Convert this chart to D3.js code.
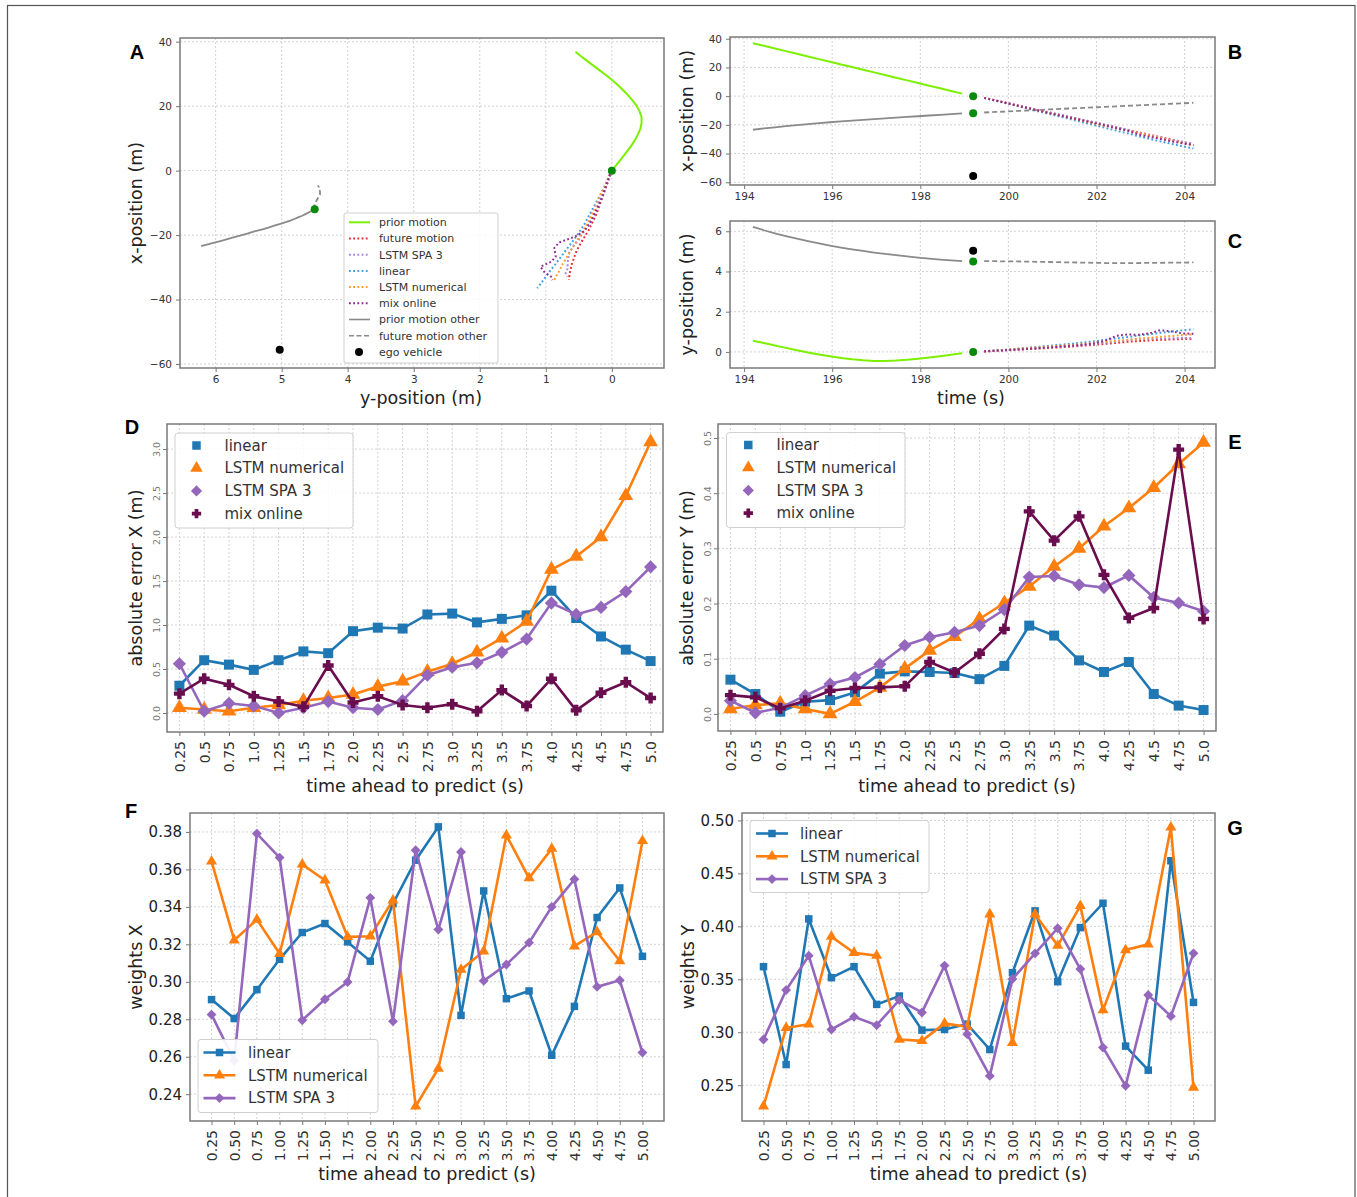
<!DOCTYPE html>
<html>
<head>
<meta charset="utf-8">
<script src="https://cdn.jsdelivr.net/npm/d3@7"></script>
<style>
  body { margin: 0; background: #fff; }
  svg { display: block; font-family: "DejaVu Sans", sans-serif; }
</style>
</head>
<body>
<svg id="fig" width="1357" height="1197"></svg>
<script>
// ---------------- trajectory data (panels A, B, C) ----------------
// observed history of the target vehicle, 0.25 s steps
const priorT = [194.2,194.45,194.7,194.95,195.2,195.45,195.7,195.95,196.2,196.45,196.7,196.95,197.2,197.45,197.7,197.95,198.2,198.45,198.7,198.95];
const priorX = [36.9,35.05,33.2,31.35,29.5,27.65,25.8,23.95,22.1,20.25,18.4,16.55,14.7,12.85,11.0,9.15,7.3,5.45,3.6,1.75];
const priorY = [0.55,0.44,0.32,0.20,0.08,-0.03,-0.13,-0.22,-0.30,-0.37,-0.42,-0.45,-0.45,-0.43,-0.39,-0.34,-0.28,-0.21,-0.14,-0.07];
// observed history of the other vehicle
const otherPriorX = [-23.4,-22.5,-21.7,-20.9,-20.2,-19.5,-18.8,-18.2,-17.6,-17.0,-16.5,-16.0,-15.5,-15.0,-14.5,-14.0,-13.5,-13.0,-12.5,-12.0];
const otherPriorY = [6.22,6.05,5.90,5.76,5.63,5.51,5.40,5.29,5.19,5.10,5.02,4.94,4.87,4.81,4.75,4.69,4.64,4.59,4.55,4.51];
// current time step and positions
const nowT = 199.2;
const nowTarget = {x: 0.0, y: 0.0};
const nowOther = {x: -12.0, y: 4.5};
const nowEgo = {x: -55.6, y: 5.03};
// prediction horizon, 0.25 s steps
const futT = [199.45,199.7,199.95,200.2,200.45,200.7,200.95,201.2,201.45,201.7,201.95,202.2,202.45,202.7,202.95,203.2,203.45,203.7,203.95,204.2];
const otherFutX = [-11.4,-11.0,-10.7,-10.3,-10.0,-9.6,-9.2,-8.9,-8.5,-8.2,-7.8,-7.5,-7.1,-6.7,-6.4,-6.0,-5.7,-5.3,-5.0,-4.6];
const otherFutY = [4.51,4.51,4.50,4.50,4.49,4.48,4.47,4.46,4.45,4.44,4.43,4.42,4.42,4.42,4.42,4.43,4.43,4.44,4.44,4.45];
const futureX = [-1.2,-2.9,-4.7,-6.4,-8.1,-9.9,-11.6,-13.3,-15.0,-16.7,-18.4,-20.1,-21.8,-23.5,-25.2,-26.9,-28.6,-30.3,-32.0,-33.9];
const futureY = [0.02,0.05,0.08,0.11,0.14,0.17,0.20,0.23,0.27,0.31,0.35,0.40,0.45,0.50,0.54,0.57,0.60,0.62,0.64,0.65];
const predSpaX = [-1.2,-2.9,-4.6,-6.3,-8.0,-9.7,-11.4,-13.1,-14.8,-16.5,-18.2,-19.9,-21.5,-23.3,-25.6,-27.2,-28.8,-30.4,-31.8,-33.0];
const predSpaY = [0.02,0.05,0.08,0.12,0.15,0.19,0.22,0.26,0.30,0.34,0.40,0.46,0.50,0.58,0.65,0.66,0.67,0.67,0.70,0.68];
const predLinX = [-1.3,-3.1,-5.0,-6.9,-8.8,-10.7,-12.6,-14.5,-16.4,-18.3,-20.2,-22.1,-24.0,-25.9,-27.8,-29.7,-31.5,-33.2,-34.9,-36.5];
const predLinY = [0.03,0.07,0.11,0.16,0.21,0.26,0.31,0.36,0.41,0.47,0.53,0.60,0.67,0.74,0.81,0.88,0.95,1.01,1.07,1.13];
const predNumX = [-1.2,-3.0,-4.8,-6.6,-8.4,-10.2,-12.0,-13.8,-15.6,-17.3,-19.0,-20.7,-22.4,-24.1,-25.8,-27.5,-29.2,-30.9,-32.6,-34.4];
const predNumY = [0.03,0.07,0.11,0.15,0.19,0.23,0.27,0.31,0.35,0.40,0.45,0.50,0.55,0.60,0.65,0.70,0.75,0.79,0.84,0.88];
const predMixX = [-1.2,-3.0,-4.8,-6.6,-8.4,-10.2,-12.0,-13.7,-15.4,-17.1,-18.8,-20.5,-22.3,-24.0,-26.7,-28.3,-29.8,-31.5,-32.9,-34.0];
const predMixY = [0.03,0.06,0.09,0.12,0.15,0.19,0.23,0.27,0.31,0.36,0.42,0.56,0.80,0.87,0.85,0.92,1.08,1.02,0.92,0.90];

// ---------------- error and weight data (panels D-G) ----------------
const horizonLabels = ["0.25","0.5","0.75","1.0","1.25","1.5","1.75","2.0","2.25","2.5","2.75","3.0","3.25","3.5","3.75","4.0","4.25","4.5","4.75","5.0"];
const horizonLabelsW = ["0.25","0.50","0.75","1.00","1.25","1.50","1.75","2.00","2.25","2.50","2.75","3.00","3.25","3.50","3.75","4.00","4.25","4.50","4.75","5.00"];

const errXLinear  = [0.31,0.60,0.55,0.49,0.60,0.70,0.68,0.93,0.97,0.96,1.12,1.13,1.03,1.07,1.11,1.39,1.08,0.87,0.72,0.59];
const errXLstmNum = [0.06,0.04,0.02,0.06,0.09,0.14,0.17,0.21,0.30,0.36,0.47,0.56,0.69,0.85,1.04,1.63,1.78,2.00,2.47,3.08];
const errXSpa     = [0.56,0.02,0.11,0.08,0.00,0.06,0.13,0.06,0.04,0.14,0.43,0.52,0.57,0.69,0.84,1.25,1.12,1.20,1.38,1.66];
const errXMix     = [0.22,0.39,0.32,0.19,0.13,0.07,0.54,0.12,0.19,0.09,0.06,0.10,0.02,0.26,0.08,0.39,0.03,0.23,0.35,0.17];

const errYLinear  = [0.062,0.036,0.004,0.022,0.025,0.039,0.073,0.077,0.076,0.074,0.063,0.087,0.160,0.142,0.097,0.076,0.094,0.036,0.015,0.007];
const errYLstmNum = [0.009,0.016,0.019,0.009,0.000,0.022,0.048,0.082,0.115,0.140,0.172,0.201,0.231,0.267,0.300,0.340,0.373,0.410,0.453,0.492];
const errYSpa     = [0.024,0.002,0.011,0.033,0.054,0.066,0.090,0.124,0.139,0.148,0.160,0.189,0.248,0.250,0.234,0.229,0.251,0.211,0.201,0.186];
const errYMix     = [0.034,0.030,0.010,0.024,0.042,0.047,0.048,0.050,0.094,0.075,0.109,0.154,0.367,0.314,0.358,0.252,0.174,0.192,0.479,0.172];

const wXLinear  = [0.2905,0.2804,0.2958,0.3120,0.3263,0.3311,0.3213,0.3110,0.3417,0.3649,0.3827,0.2821,0.3485,0.2910,0.2951,0.2608,0.2869,0.3343,0.3501,0.3136];
const wXLstmNum = [0.3643,0.3222,0.3332,0.3150,0.3627,0.3542,0.3240,0.3243,0.3435,0.2336,0.2537,0.3065,0.3163,0.3782,0.3554,0.3711,0.3190,0.3266,0.3111,0.3752];
const wXSpa     = [0.2825,0.2580,0.3791,0.3663,0.2795,0.2907,0.2999,0.3448,0.2789,0.3702,0.3279,0.3693,0.3005,0.3092,0.3209,0.3400,0.3547,0.2973,0.3008,0.2622];

const wYLinear  = [0.3619,0.2695,0.4070,0.3515,0.3619,0.3263,0.3342,0.3020,0.3026,0.3077,0.2837,0.3562,0.4146,0.3477,0.3988,0.4218,0.2869,0.2642,0.4619,0.3282];
const wYLstmNum = [0.2301,0.3042,0.3074,0.3903,0.3751,0.3723,0.2932,0.2919,0.3083,0.3052,0.4114,0.2900,0.4114,0.3818,0.4193,0.3209,0.3777,0.3830,0.4934,0.2478];
const wYSpa     = [0.2932,0.3398,0.3723,0.3026,0.3146,0.3067,0.3304,0.3187,0.3629,0.2982,0.2588,0.3503,0.3745,0.3982,0.3597,0.2856,0.2494,0.3351,0.3152,0.3745];

// ---------------- styling ----------------
const COL = {lin: "#1f77b4", num: "#ff7f0e", spa: "#9467bd", mix: "#6a0d4f"};
const TRAJ = {
  prior: "#7cf000", future: "#e8262e", spa: "#a584dc", lin: "#3d9ee0",
  num: "#ff9a2e", mix: "#8f2a8f", other: "#8a8a8a", now: "#0a8a0a", ego: "#000"
};
const FONT = "DejaVu Sans";
const MINUS = "\u2212";
const fmtSigned = d => (d < 0 ? MINUS + Math.abs(d) : String(d));

const svg = d3.select("#fig");
svg.append("rect").attr("width", 1357).attr("height", 1197).attr("fill", "#fff");
// outer figure frame
svg.append("rect").attr("x", 7.5).attr("y", 5.5).attr("width", 1347.5).attr("height", 1205)
  .attr("fill", "none").attr("stroke", "#555").attr("stroke-width", 1.2);

let clipId = 0;
function makeAxes(box, x, y, cfg) {
  const g = svg.append("g");
  const id = "clip" + (clipId++);
  svg.append("clipPath").attr("id", id).append("rect")
    .attr("x", box.l).attr("y", box.t).attr("width", box.r - box.l).attr("height", box.b - box.t);
  // grid
  g.selectAll(".vg").data(cfg.xTicks).join("line")
    .attr("x1", d => x(d)).attr("x2", d => x(d)).attr("y1", box.t).attr("y2", box.b)
    .attr("stroke", "#d2d2d2").attr("stroke-width", 1).attr("stroke-dasharray", "2,2");
  g.selectAll(".hg").data(cfg.yTicks).join("line")
    .attr("x1", box.l).attr("x2", box.r).attr("y1", d => y(d)).attr("y2", d => y(d))
    .attr("stroke", "#d2d2d2").attr("stroke-width", 1).attr("stroke-dasharray", "2,2");
  const plot = svg.append("g").attr("clip-path", `url(#${id})`);
  return {g, plot, box, x, y, cfg};
}

function finishAxes(ax) {
  const {box, x, y, cfg} = ax;
  svg.append("rect").attr("x", box.l).attr("y", box.t).attr("width", box.r - box.l).attr("height", box.b - box.t)
    .attr("fill", "none").attr("stroke", "#7a7a7a").attr("stroke-width", 1.5);
  // bottom axis
  const xa = svg.append("g").attr("transform", `translate(0,${box.b})`)
    .call(d3.axisBottom(x).tickValues(cfg.xTicks).tickFormat(cfg.xFmt).tickSize(4).tickPadding(4));
  xa.select(".domain").remove();
  xa.selectAll(".tick line").attr("stroke", "#777");
  xa.selectAll("text").attr("font-family", FONT).attr("font-size", cfg.xFont).attr("fill", "#333");
  if (cfg.xRot) {
    xa.selectAll("text").attr("transform", "rotate(-90)").attr("text-anchor", "end")
      .attr("x", -9).attr("y", 0).attr("dy", "0.35em");
  }
  // left axis
  const ya = svg.append("g").attr("transform", `translate(${box.l},0)`)
    .call(d3.axisLeft(y).tickValues(cfg.yTicks).tickFormat(cfg.yFmt).tickSize(4).tickPadding(4));
  ya.select(".domain").remove();
  ya.selectAll(".tick line").attr("stroke", "#777");
  ya.selectAll("text").attr("font-family", FONT).attr("font-size", cfg.yFont).attr("fill", cfg.yColor || "#333");
  if (cfg.yRot) {
    ya.selectAll("text").attr("transform", "rotate(-90)").attr("text-anchor", "middle")
      .attr("x", 0).attr("y", -7).attr("dy", 0);
  }
  // axis titles
  if (cfg.xTitle) {
    svg.append("text").attr("x", cfg.xTitle.x).attr("y", cfg.xTitle.y).attr("text-anchor", "middle")
      .attr("font-family", FONT).attr("font-size", 17.5).attr("fill", "#222").text(cfg.xTitle.text);
  }
  if (cfg.yTitle) {
    svg.append("text").attr("transform", `translate(${cfg.yTitle.x},${cfg.yTitle.y}) rotate(-90)`)
      .attr("text-anchor", "middle").attr("dy", "0.35em")
      .attr("font-family", FONT).attr("font-size", 17.5).attr("fill", "#222").text(cfg.yTitle.text);
  }
}

function panelLetter(t, x, y) {
  svg.append("text").attr("x", x).attr("y", y).attr("text-anchor", "middle").attr("dy", "0.36em")
    .attr("font-family", "Liberation Sans, Arial, sans-serif").attr("font-weight", "bold")
    .attr("font-size", 20).attr("fill", "#000").text(t);
}

function markerPath(type, s) {
  if (type === "square") return d3.symbol(d3.symbolSquare, s * s)();
  if (type === "triangle") return d3.symbol(d3.symbolTriangle, s * s * 0.95)();
  if (type === "diamond") { const h = s * 0.66; return `M0,${-h}L${h},0L0,${h}L${-h},0Z`; }
  if (type === "plus") {
    // filled plus with thick arms
    const r = s * 0.55, w = s * 0.22;
    return `M${-w},${-r}L${w},${-r}L${w},${-w}L${r},${-w}L${r},${w}L${w},${w}L${w},${r}L${-w},${r}L${-w},${w}L${-r},${w}L${-r},${-w}L${-w},${-w}Z`;
  }
}

// ============ Panel A: x-position vs y-position ============
{
  const box = {l: 180, r: 664, t: 38, b: 368};
  const x = d3.scaleLinear().domain([6.54, -0.79]).range([box.l, box.r]);
  const y = d3.scaleLinear().domain([-61.24, 41.15]).range([box.b, box.t]);
  const ax = makeAxes(box, x, y, {
    xTicks: [6,5,4,3,2,1,0], yTicks: [40,20,0,-20,-40,-60], xFmt: fmtSigned, yFmt: fmtSigned,
    xFont: 10.5, yFont: 10.5,
    xTitle: {x: 421, y: 404, text: "y-position (m)"}, yTitle: {x: 136, y: 203, text: "x-position (m)"}
  });
  const line = d3.line().x(d => x(d[1])).y(d => y(d[0]));
  const zip = (a, b) => a.map((v, i) => [v, b[i]]);
  const p = ax.plot;
  p.append("path").attr("d", line(zip(priorX, priorY).concat([[nowTarget.x, nowTarget.y]])))
    .attr("fill", "none").attr("stroke", TRAJ.prior).attr("stroke-width", 2);
  const preds = [
    [futureX, futureY, TRAJ.future], [predSpaX, predSpaY, TRAJ.spa], [predLinX, predLinY, TRAJ.lin],
    [predNumX, predNumY, TRAJ.num], [predMixX, predMixY, TRAJ.mix]
  ];
  preds.forEach(([xs, ys, c]) => {
    p.append("path").attr("d", line([[nowTarget.x, nowTarget.y]].concat(zip(xs, ys))))
      .attr("fill", "none").attr("stroke", c).attr("stroke-width", 2).attr("stroke-dasharray", "1.8,2.4");
  });
  p.append("path").attr("d", line(zip(otherPriorX, otherPriorY).concat([[nowOther.x, nowOther.y]])))
    .attr("fill", "none").attr("stroke", TRAJ.other).attr("stroke-width", 1.8);
  p.append("path").attr("d", line([[nowOther.x, nowOther.y]].concat(zip(otherFutX, otherFutY))))
    .attr("fill", "none").attr("stroke", TRAJ.other).attr("stroke-width", 1.8).attr("stroke-dasharray", "5,3");
  [[nowTarget, TRAJ.now], [nowOther, TRAJ.now], [nowEgo, TRAJ.ego]].forEach(([pt, c]) => {
    p.append("circle").attr("cx", x(pt.y)).attr("cy", y(pt.x)).attr("r", 4).attr("fill", c);
  });
  finishAxes(ax);
  // legend
  const lg = svg.append("g");
  lg.append("rect").attr("x", 344).attr("y", 213).attr("width", 154).attr("height", 150).attr("rx", 2)
    .attr("fill", "#fff").attr("fill-opacity", 0.85).attr("stroke", "#d0d0d0");
  const items = [
    ["prior motion", TRAJ.prior, "solid"], ["future motion", TRAJ.future, "dot"], ["LSTM SPA 3", TRAJ.spa, "dot"],
    ["linear", TRAJ.lin, "dot"], ["LSTM numerical", TRAJ.num, "dot"], ["mix online", TRAJ.mix, "dot"],
    ["prior motion other", TRAJ.other, "solid"], ["future motion other", TRAJ.other, "dash"], ["ego vehicle", TRAJ.ego, "dotmark"]
  ];
  items.forEach(([lab, c, st], i) => {
    const yy = 222.3 + i * 16.2;
    if (st === "dotmark") {
      lg.append("circle").attr("cx", 359).attr("cy", yy).attr("r", 4).attr("fill", c);
    } else {
      const l = lg.append("line").attr("x1", 349).attr("x2", 370).attr("y1", yy).attr("y2", yy)
        .attr("stroke", c).attr("stroke-width", 2);
      if (st === "dot") l.attr("stroke-dasharray", "1.8,2.4");
      if (st === "dash") l.attr("stroke-dasharray", "5,2.5").attr("stroke-width", 1.6);
      if (c === TRAJ.other && st === "solid") l.attr("stroke-width", 1.6);
    }
    lg.append("text").attr("x", 379).attr("y", yy).attr("dy", "0.35em").attr("font-family", FONT)
      .attr("font-size", 11).attr("fill", "#333").text(lab);
  });
  panelLetter("A", 137, 52);
}

// ============ Panels B and C: position over time ============
function timePanel(box, yDomain, yTicks, xsTarget, targetNow, otherPrior, otherFut, otherNow, egoNow, predList, yTitle, xTitle) {
  const x = d3.scaleLinear().domain([193.68, 204.69]).range([box.l, box.r]);
  const y = d3.scaleLinear().domain(yDomain).range([box.b, box.t]);
  const ax = makeAxes(box, x, y, {
    xTicks: [194,196,198,200,202,204], yTicks, xFmt: d => String(d), yFmt: fmtSigned,
    xFont: 10.5, yFont: 10.5,
    xTitle: xTitle ? {x: 971, y: 404, text: xTitle} : null,
    yTitle: {x: 687, y: (box.t + box.b) / 2, text: yTitle}
  });
  const line = d3.line().x(d => x(d[0])).y(d => y(d[1]));
  const zip = (a, b) => a.map((v, i) => [v, b[i]]);
  const p = ax.plot;
  p.append("path").attr("d", line(zip(priorT, xsTarget))).attr("fill", "none")
    .attr("stroke", TRAJ.prior).attr("stroke-width", 2);
  p.append("path").attr("d", line(zip(priorT, otherPrior))).attr("fill", "none")
    .attr("stroke", TRAJ.other).attr("stroke-width", 1.8);
  p.append("path").attr("d", line(zip(futT, otherFut))).attr("fill", "none")
    .attr("stroke", TRAJ.other).attr("stroke-width", 1.8).attr("stroke-dasharray", "5,3");
  predList.forEach(([vals, c]) => {
    p.append("path").attr("d", line(zip(futT, vals))).attr("fill", "none")
      .attr("stroke", c).attr("stroke-width", 2).attr("stroke-dasharray", "1.8,2.4");
  });
  [[targetNow, TRAJ.now], [otherNow, TRAJ.now], [egoNow, TRAJ.ego]].forEach(([v, c]) => {
    p.append("circle").attr("cx", x(nowT)).attr("cy", y(v)).attr("r", 4).attr("fill", c);
  });
  finishAxes(ax);
}
timePanel({l: 730, r: 1215, t: 37, b: 185}, [-61.9, 41.2], [40,20,0,-20,-40,-60],
  priorX, nowTarget.x, otherPriorX, otherFutX, nowOther.x, nowEgo.x,
  [[futureX, TRAJ.future], [predSpaX, TRAJ.spa], [predLinX, TRAJ.lin], [predNumX, TRAJ.num], [predMixX, TRAJ.mix]],
  "x-position (m)", null);
timePanel({l: 730, r: 1215, t: 221, b: 368}, [-0.8, 6.51], [0,2,4,6],
  priorY, nowTarget.y, otherPriorY, otherFutY, nowOther.y, nowEgo.y,
  [[futureY, TRAJ.future], [predSpaY, TRAJ.spa], [predLinY, TRAJ.lin], [predNumY, TRAJ.num], [predMixY, TRAJ.mix]],
  "y-position (m)", "time (s)");
panelLetter("B", 1235, 52);
panelLetter("C", 1235, 241);

// ============ Panels D and E: absolute prediction errors ============
function errorPanel(box, yDomain, yTicks, series, yTitle, legendBox) {
  const x = d3.scalePoint().domain(horizonLabels).range([box.l, box.r]).padding(0.5);
  const y = d3.scaleLinear().domain(yDomain).range([box.b, box.t]);
  const ax = makeAxes(box, x, y, {
    xTicks: horizonLabels, yTicks, xFmt: d => d, yFmt: d3.format(".1f"),
    xFont: 14, yFont: 9.5, yColor: "#777", xRot: true, yRot: true,
    xTitle: {x: (box.l + box.r) / 2, y: 792, text: "time ahead to predict (s)"},
    yTitle: {x: box.l - 31, y: 578, text: yTitle}
  });
  const p = ax.plot;
  series.forEach(s => {
    const pts = s.v.map((v, i) => [x(horizonLabels[i]), y(v)]);
    p.append("path").attr("d", d3.line()(pts)).attr("fill", "none").attr("stroke", s.c).attr("stroke-width", 2.6);
    p.selectAll(null).data(pts).join("path").attr("d", markerPath(s.m, 10))
      .attr("transform", d => `translate(${d[0]},${d[1]})`).attr("fill", s.c);
  });
  finishAxes(ax);
  const lg = svg.append("g");
  lg.append("rect").attr("x", legendBox.x).attr("y", legendBox.y).attr("width", legendBox.w).attr("height", legendBox.h)
    .attr("rx", 3).attr("fill", "#fff").attr("fill-opacity", 0.85).attr("stroke", "#d0d0d0");
  series.forEach((s, i) => {
    const yy = legendBox.y + 12.5 + i * 22.7;
    lg.append("path").attr("d", markerPath(s.m, 8.5)).attr("transform", `translate(${legendBox.mx},${yy})`).attr("fill", s.c);
    lg.append("text").attr("x", legendBox.tx).attr("y", yy).attr("dy", "0.35em").attr("font-family", FONT)
      .attr("font-size", 15).attr("fill", "#333").text(s.name);
  });
}
errorPanel({l: 167, r: 663, t: 424, b: 732}, [-0.216, 3.285], [0,0.5,1,1.5,2,2.5,3],
  [{name: "linear", v: errXLinear, c: COL.lin, m: "square"},
   {name: "LSTM numerical", v: errXLstmNum, c: COL.num, m: "triangle"},
   {name: "LSTM SPA 3", v: errXSpa, c: COL.spa, m: "diamond"},
   {name: "mix online", v: errXMix, c: COL.mix, m: "plus"}],
  "absolute error X (m)", {x: 175, y: 433, w: 178, h: 95, mx: 196.5, tx: 224.5});
errorPanel({l: 718, r: 1216, t: 424, b: 731}, [-0.031, 0.5254], [0,0.1,0.2,0.3,0.4,0.5],
  [{name: "linear", v: errYLinear, c: COL.lin, m: "square"},
   {name: "LSTM numerical", v: errYLstmNum, c: COL.num, m: "triangle"},
   {name: "LSTM SPA 3", v: errYSpa, c: COL.spa, m: "diamond"},
   {name: "mix online", v: errYMix, c: COL.mix, m: "plus"}],
  "absolute error Y (m)", {x: 726.5, y: 432.5, w: 178.5, h: 95, mx: 748.3, tx: 776.5});
panelLetter("D", 132, 427);
panelLetter("E", 1235, 442);

// ============ Panels F and G: mixture weights ============
function weightPanel(box, yDomain, yTicks, series, yTitle, legendBox) {
  const x = d3.scalePoint().domain(horizonLabelsW).range([box.l, box.r]).padding(0.95);
  const y = d3.scaleLinear().domain(yDomain).range([box.b, box.t]);
  const ax = makeAxes(box, x, y, {
    xTicks: horizonLabelsW, yTicks, xFmt: d => d, yFmt: d3.format(".2f"),
    xFont: 14, yFont: 15, yColor: "#222", xRot: true,
    xTitle: {x: (box.l + box.r) / 2, y: 1180, text: "time ahead to predict (s)"},
    yTitle: {x: box.l - 54, y: 967, text: yTitle}
  });
  const p = ax.plot;
  series.forEach(s => {
    const pts = s.v.map((v, i) => [x(horizonLabelsW[i]), y(v)]);
    p.append("path").attr("d", d3.line()(pts)).attr("fill", "none").attr("stroke", s.c).attr("stroke-width", 2.6);
    p.selectAll(null).data(pts).join("path").attr("d", markerPath(s.m, 7.5))
      .attr("transform", d => `translate(${d[0]},${d[1]})`).attr("fill", s.c);
  });
  finishAxes(ax);
  const lg = svg.append("g");
  lg.append("rect").attr("x", legendBox.x).attr("y", legendBox.y).attr("width", legendBox.w).attr("height", legendBox.h)
    .attr("rx", 3).attr("fill", "#fff").attr("fill-opacity", 0.9).attr("stroke", "#d0d0d0");
  series.forEach((s, i) => {
    const yy = legendBox.y + 13 + i * 22.8;
    lg.append("line").attr("x1", legendBox.hx).attr("x2", legendBox.hx + 32).attr("y1", yy).attr("y2", yy)
      .attr("stroke", s.c).attr("stroke-width", 2.6);
    lg.append("path").attr("d", markerPath(s.m, 7.5)).attr("transform", `translate(${legendBox.hx + 16},${yy})`).attr("fill", s.c);
    lg.append("text").attr("x", legendBox.tx).attr("y", yy).attr("dy", "0.35em").attr("font-family", FONT)
      .attr("font-size", 15).attr("fill", "#333").text(s.name);
  });
}
weightPanel({l: 190, r: 664, t: 813, b: 1121}, [0.2257, 0.3901], [0.24,0.26,0.28,0.30,0.32,0.34,0.36,0.38],
  [{name: "linear", v: wXLinear, c: COL.lin, m: "square"},
   {name: "LSTM numerical", v: wXLstmNum, c: COL.num, m: "triangle"},
   {name: "LSTM SPA 3", v: wXSpa, c: COL.spa, m: "diamond"}],
  "weights X", {x: 198, y: 1039.5, w: 180, h: 73, hx: 203.5, tx: 248});
weightPanel({l: 742, r: 1215, t: 813, b: 1121}, [0.2162, 0.507], [0.25,0.30,0.35,0.40,0.45,0.50],
  [{name: "linear", v: wYLinear, c: COL.lin, m: "square"},
   {name: "LSTM numerical", v: wYLstmNum, c: COL.num, m: "triangle"},
   {name: "LSTM SPA 3", v: wYSpa, c: COL.spa, m: "diamond"}],
  "weights Y", {x: 750, y: 820.5, w: 179, h: 72, hx: 756, tx: 800});
panelLetter("F", 131, 811);
panelLetter("G", 1235, 828);
</script>
</body>
</html>
